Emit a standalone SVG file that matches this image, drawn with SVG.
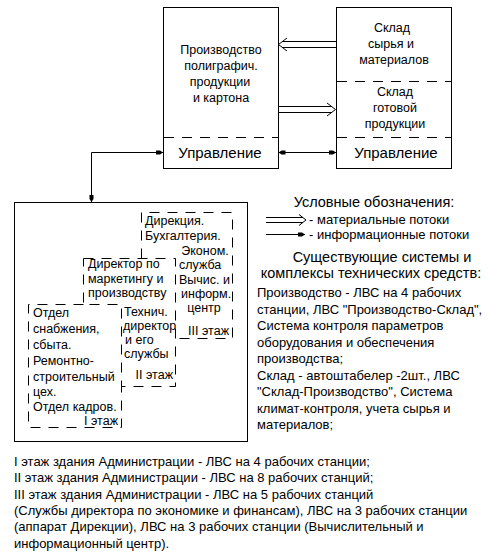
<svg xmlns="http://www.w3.org/2000/svg" width="495" height="552" viewBox="0 0 495 552">
<style>
text{font-family:"Liberation Sans",Arial,sans-serif;font-size:12.5px;fill:#000}
.big{font-size:15px}
.hd{font-size:14.5px}
.t13{font-size:13px}
.c{text-anchor:middle}
.e{text-anchor:end}
.box{fill:#fff;stroke:#000;stroke-width:1}
.dash{fill:none;stroke:#000;stroke-width:1;stroke-dasharray:10 8}
.ln{fill:none;stroke:#000;stroke-width:1}
.info{fill:none;stroke:#000;stroke-width:1;marker-start:url(#ah);marker-end:url(#ah)}
</style>
<defs>
<marker id="ah" viewBox="0 0 7 6" refX="7" refY="3" markerWidth="7" markerHeight="6" markerUnits="userSpaceOnUse" orient="auto-start-reverse">
<path d="M0,1 L4,1 L7,3 L4,5 L0,5 Z" fill="#000"/>
</marker>
</defs>
<rect width="495" height="552" fill="#fff"/>

<g id="production">
<rect class="box" x="163.5" y="7.5" width="115" height="161"/>
<line class="dash" x1="164" y1="137.5" x2="278" y2="137.5"/>
<text class="c" x="221" y="54">Производство</text>
<text class="c" x="221" y="70">полиграфич.</text>
<text class="c" x="220" y="86">продукции</text>
<text class="c" x="221" y="102">и картона</text>
<text class="c big" x="220" y="158">Управление</text>
</g>

<g id="warehouse">
<rect class="box" x="336.5" y="7.5" width="115" height="161"/>
<line class="dash" x1="337" y1="81.5" x2="451" y2="81.5"/>
<line class="dash" x1="337" y1="137.5" x2="451" y2="137.5"/>
<text class="c" x="392" y="32">Склад</text>
<text class="c" x="391" y="48">сырья и</text>
<text class="c" x="394" y="64">материалов</text>
<text class="c" x="395" y="96">Склад</text>
<text class="c" x="395" y="112">готовой</text>
<text class="c" x="395" y="128">продукции</text>
<text class="c big" x="396" y="158">Управление</text>
</g>

<g id="administration">
<rect class="box" x="14.5" y="202.5" width="233" height="239"/>
<g id="floor3">
<path class="dash" d="M141.5,258.5 V212.5 H232.5 V338.5 H175.5"/>
<text x="145" y="225">Дирекция.</text>
<text x="145" y="240">Бухгалтерия.</text>
<text class="c" x="205" y="255">Эконом.</text>
<text x="179" y="269">служба</text>
<text x="179" y="284">Вычис. и</text>
<text x="181" y="298">информ.</text>
<text class="c" x="204" y="312">центр</text>
<text class="e" x="229" y="335">III этаж</text>
</g>
<g id="floor2">
<path class="dash" d="M83.5,258.5 H175.5 V386.5 H121.5 V304.5 H83.5 Z"/>
<text x="88" y="268">Директор по</text>
<text x="88" y="283">маркетингу и</text>
<text x="88" y="297">производству</text>
<text x="124" y="316">Технич.</text>
<text x="123" y="330">директор</text>
<text x="125" y="344">и его</text>
<text x="124" y="358">службы</text>
<text class="e" x="173" y="379">II этаж</text>
</g>
<g id="floor1">
<path class="dash" d="M83.5,304.5 H28.5 V427.5 H121.5 V386.5"/>
<text x="33" y="317">Отдел</text>
<text x="33" y="333">снабжения,</text>
<text x="33" y="349">сбыта.</text>
<text x="33" y="365">Ремонтно-</text>
<text x="33" y="381">строительный</text>
<text x="33" y="396">цех.</text>
<text x="33" y="411">Отдел кадров.</text>
<text class="e" x="118" y="425">I этаж</text>
</g>
</g>

<g id="connectors">
<path class="ln" d="M336,41.5 H282 M336,47.5 H282 M287,38 L278.5,44.5 L287,51"/>
<path class="ln" d="M278,106.5 H332 M278,112.5 H332 M327,103 L335.5,109.5 L327,116"/>
<path class="info" d="M278.5,152.5 H336"/>
<path class="info" d="M91.5,202 V152.5 H163"/>
</g>

<g id="legend">
<text class="c hd" x="374" y="207">Условные обозначения:</text>
<path class="ln" d="M266,217.5 H303 M266,222.5 H303 M299,214.5 L306,220 L299,225.5"/>
<text class="t13" x="309" y="223.5">- материальные потоки</text>
<path class="ln" d="M266,234.5 H305" marker-end="url(#ah)"/>
<text class="t13" x="309" y="238.5">- информационные потоки</text>
</g>

<g id="systems">
<text class="c hd" x="382" y="262">Существующие системы и</text>
<text class="c hd" x="371" y="278">комплексы технических средств:</text>
<text class="t13" x="257" y="297">Производство - ЛВС на 4 рабочих</text>
<text class="t13" x="257" y="313.5">станции, ЛВС "Производство-Склад",</text>
<text class="t13" x="257" y="330">Система контроля параметров</text>
<text class="t13" x="257" y="346.5">оборудования и обеспечения</text>
<text class="t13" x="257" y="363">производства;</text>
<text class="t13" x="257" y="379.5">Склад - автоштабелер -2шт., ЛВС</text>
<text class="t13" x="257" y="396">"Склад-Производство", Система</text>
<text class="t13" x="257" y="412.5">климат-контроля, учета сырья и</text>
<text class="t13" x="257" y="429">материалов;</text>
</g>

<g id="notes">
<text class="t13" x="14" y="466">I этаж здания Администрации - ЛВС на 4 рабочих станции;</text>
<text class="t13" x="14" y="482.3">II этаж здания Администрации - ЛВС на 8 рабочих станций;</text>
<text class="t13" x="14" y="498.6">III этаж здания Администрации - ЛВС на 5 рабочих станций</text>
<text class="t13" x="14" y="514.9">(Службы директора по экономике и финансам), ЛВС на 3 рабочих станции</text>
<text class="t13" x="14" y="531.2">(аппарат Дирекции), ЛВС на 3 рабочих станции (Вычислительный и</text>
<text class="t13" x="14" y="547.5">информационный центр).</text>
</g>
</svg>
